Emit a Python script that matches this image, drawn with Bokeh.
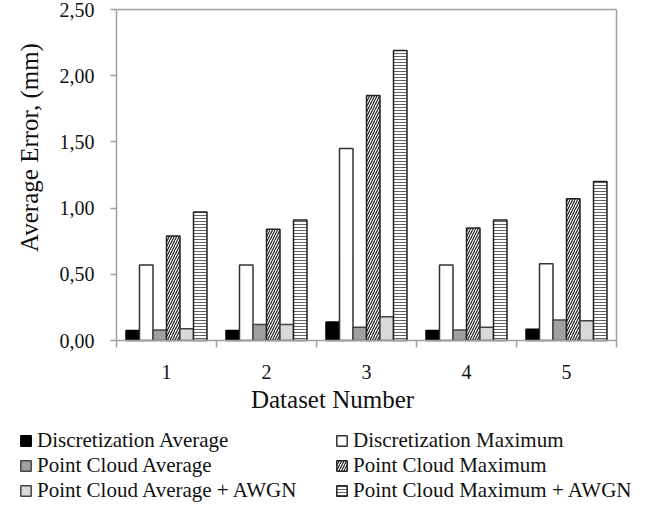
import math
from bokeh.plotting import figure
from bokeh.models import (Range1d, FixedTicker, Legend, LegendItem, Label,
                          LinearAxis, ColumnDataSource)
from bokeh.embed import file_html
from bokeh.resources import INLINE

datasets = [1, 2, 3, 4, 5]
series_names = ["Discretization Average", "Discretization Maximum",
                "Point Cloud Average", "Point Cloud Maximum",
                "Point Cloud Average + AWGN", "Point Cloud Maximum + AWGN"]
disc_avg = [0.075, 0.075, 0.14, 0.075, 0.085]
disc_max = [0.57, 0.57, 1.45, 0.57, 0.58]
pc_avg = [0.08, 0.12, 0.10, 0.08, 0.155]
pc_max = [0.79, 0.84, 1.85, 0.85, 1.07]
pc_avg_awgn = [0.088, 0.12, 0.18, 0.10, 0.15]
pc_max_awgn = [0.97, 0.91, 2.19, 0.91, 1.20]
y_ticks = [0.0, 0.5, 1.0, 1.5, 2.0, 2.5]
y_tick_labels = ["0,00", "0,50", "1,00", "1,50", "2,00", "2,50"]
x_label = "Dataset Number"
y_label = "Average Error, (mm)"

series = [disc_avg, disc_max, pc_avg, pc_max, pc_avg_awgn, pc_max_awgn]
styles = [
    dict(fill_color="#000000", line_color="#000000"),
    dict(fill_color="#ffffff", line_color="#333333"),
    dict(fill_color="#a0a0a0", line_color="#444444"),
    dict(fill_color="#ffffff", line_color="#222222", hatch_pattern="right_diagonal_line",
         hatch_color="#111111", hatch_scale=5, hatch_weight=1.1),
    dict(fill_color="#d9d9d9", line_color="#444444"),
    dict(fill_color="#ffffff", line_color="#222222", hatch_pattern="horizontal_line",
         hatch_color="#666666", hatch_scale=3, hatch_weight=1),
]

FONT = "Liberation Serif"
TXT = "#111111"
GRAY = "#a0a0a0"
bar_w = 0.135
n = len(series)

# layout geometry (pixels): chart box inside a full-canvas frame
W, H = 662, 508
box_l, box_r, box_t, box_b = 116, 616, 9, 340
x0, x1 = datasets[0] - 0.5, datasets[-1] + 0.5
y0, y1 = y_ticks[0], y_ticks[-1]
ppx = (box_r - box_l) / (x1 - x0)
ppy = (box_b - box_t) / (y1 - y0)

p = figure(width=W, height=H, output_backend="svg", toolbar_location=None,
           x_range=Range1d(x0 - box_l / ppx, x1 + (W - box_r) / ppx),
           y_range=Range1d(y0 - (H - box_b) / ppy, y1 + box_t / ppy),
           min_border=0, x_axis_location=None, y_axis_location=None)
p.xgrid.visible = False
p.ygrid.visible = False
p.outline_line_color = None

renderers = []
for i, (vals, st) in enumerate(zip(series, styles)):
    off = (i - (n - 1) / 2) * bar_w
    src = ColumnDataSource(dict(x=[d + off for d in datasets], top=vals))
    r = p.vbar(x="x", top="top", width=bar_w, bottom=0, source=src,
               line_width=1.5, **st)
    renderers.append(r)

# y axis at the left edge of the chart box
ya = LinearAxis(fixed_location=x0, bounds=(y0, y1),
                ticker=FixedTicker(ticks=y_ticks, minor_ticks=[]))
ya.major_label_overrides = {t: l for t, l in zip(y_ticks, y_tick_labels)}
ya.axis_line_color = GRAY
ya.axis_line_width = 1.5
ya.major_tick_line_color = GRAY
ya.major_tick_line_width = 1.5
ya.major_tick_out = 6
ya.major_tick_in = 0
ya.major_label_standoff = 16
ya.major_label_text_font = FONT
ya.major_label_text_font_size = "20px"
ya.major_label_text_color = TXT
p.add_layout(ya, "left")

# x axis along the bottom of the chart box
xa = LinearAxis(fixed_location=y0, bounds=(x0, x1),
                ticker=FixedTicker(ticks=datasets,
                                   minor_ticks=[d - 0.5 for d in datasets] + [x1]))
xa.axis_line_color = GRAY
xa.axis_line_width = 1.5
xa.major_tick_line_color = None
xa.major_tick_out = 0
xa.major_tick_in = 0
xa.minor_tick_line_color = GRAY
xa.minor_tick_line_width = 1.5
xa.minor_tick_out = 7
xa.minor_tick_in = 0
xa.major_label_standoff = 17
xa.major_label_text_font = FONT
xa.major_label_text_font_size = "20px"
xa.major_label_text_color = TXT
p.add_layout(xa, "below")

# top and right borders of the chart box
for loc, fl, bnds in (("above", y1, (x0, x1)), ("right", x1, (y0, y1))):
    ax = LinearAxis(fixed_location=fl, bounds=bnds,
                    ticker=FixedTicker(ticks=[], minor_ticks=[]))
    ax.axis_line_color = GRAY
    ax.axis_line_width = 1.5
    ax.major_label_text_font_size = "0px"
    ax.major_tick_line_color = None
    ax.minor_tick_line_color = None
    p.add_layout(ax, loc)

# axis titles
p.add_layout(Label(x=29, y=H - 147, x_units="screen", y_units="screen",
                   text=y_label, angle=math.pi / 2, text_align="center",
                   text_baseline="middle", text_font=FONT, text_font_size="25px",
                   text_color=TXT))
p.add_layout(Label(x=332, y=H - 399, x_units="screen", y_units="screen",
                   text=x_label, text_align="center", text_baseline="middle",
                   text_font=FONT, text_font_size="25px", text_color=TXT))

def make_legend(idxs, x, y):
    items = [LegendItem(label=series_names[i], renderers=[renderers[i]]) for i in idxs]
    return Legend(items=items, location=(x, y), orientation="vertical",
                  glyph_width=13, glyph_height=13, label_standoff=5,
                  label_text_font=FONT, label_text_font_size="21px",
                  label_text_color=TXT, label_height=20, spacing=0,
                  padding=0, margin=0, border_line_color=None,
                  background_fill_alpha=0)

p.add_layout(make_legend([0, 2, 4], 19, 5))
p.add_layout(make_legend([1, 3, 5], 335, 5))

open("out.html", "w").write(file_html(p, INLINE))
